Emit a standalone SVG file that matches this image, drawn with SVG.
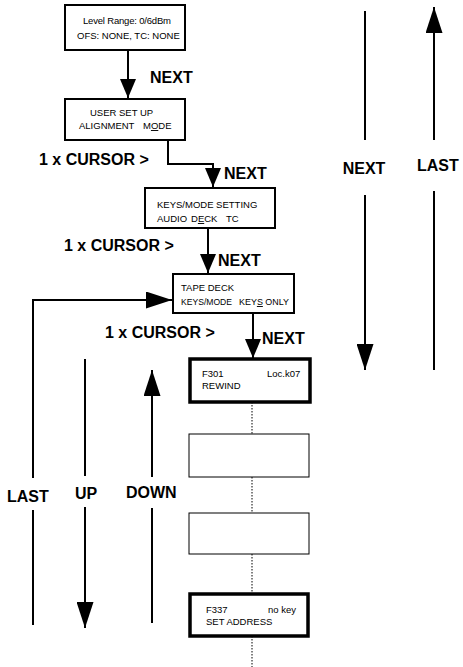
<svg xmlns="http://www.w3.org/2000/svg" width="463" height="667" viewBox="0 0 463 667">
<defs>
<style>
.bx{fill:#fff;stroke:#000;stroke-width:2}
.bk{fill:#fff;stroke:#000;stroke-width:3.5}
.bt{fill:#fff;stroke:#000;stroke-width:1}
.t{font-family:"Liberation Sans",Arial,sans-serif;font-size:9.5px;fill:#000}
.l{font-family:"Liberation Sans",Arial,sans-serif;font-size:16px;font-weight:bold;fill:#000}
.c{fill:none;stroke:#000;stroke-width:2}
.d{fill:none;stroke:#000;stroke-width:1;stroke-dasharray:1.5 1.5}
</style>
<marker id="ah" markerUnits="userSpaceOnUse" markerWidth="19" markerHeight="16" refX="19" refY="8" orient="auto">
<path d="M0,0 L19,8 L0,16 z" fill="#000"/>
</marker>
<marker id="al" markerUnits="userSpaceOnUse" markerWidth="26" markerHeight="17" refX="26" refY="8.5" orient="auto">
<path d="M0,0 L26,8.5 L0,17 z" fill="#000"/>
</marker>
</defs>
<rect width="463" height="667" fill="#fff"/>

<g id="connectors">
<path class="c" d="M128,50 V98" marker-end="url(#ah)"/>
<path class="c" d="M168,140 V164 H213 V187" marker-end="url(#ah)"/>
<path class="c" d="M208,228 V273" marker-end="url(#ah)"/>
<path class="c" d="M33,478 V300 H172" marker-end="url(#al)"/>
<path class="c" d="M33,510 V625"/>
<path class="c" d="M253,313 V358" marker-end="url(#ah)"/>
<path class="d" d="M252,402 V434 M252,477 V513 M252,554 V594 M252,636 V667"/>
<path class="c" d="M85,359 V476"/>
<path class="c" d="M85,507 V628" marker-end="url(#al)"/>
<path class="c" d="M152,477 V370" marker-end="url(#al)"/>
<path class="c" d="M152,508 V623"/>
<path class="c" d="M365,11 V140"/>
<path class="c" d="M365,195 V370" marker-end="url(#al)"/>
<path class="c" d="M434,140 V7" marker-end="url(#al)"/>
<path class="c" d="M434,191 V370"/>
</g>

<g id="node-level-range">
<rect class="bx" x="65" y="5" width="120" height="45"/>
<text class="t" x="83" y="24" textLength="88">Level Range: 0/6dBm</text>
<text class="t" x="77" y="39">OFS: NONE, TC: NONE</text>
</g>

<g id="node-user-setup">
<rect class="bx" x="65" y="99" width="120" height="41"/>
<text class="t" x="90" y="116">USER SET UP</text>
<text class="t" x="79" y="129">ALIGNMENT</text>
<text class="t" x="143" y="129">M<tspan text-decoration="underline">O</tspan>DE</text>
</g>

<g id="node-keys-mode">
<rect class="bx" x="145" y="188" width="130" height="40"/>
<text class="t" x="157" y="208">KEYS/MODE SETTING</text>
<text class="t" x="157" y="222">AUDIO</text>
<text class="t" x="191" y="222">D<tspan text-decoration="underline">E</tspan>CK</text>
<text class="t" x="226" y="222">TC</text>
</g>

<g id="node-tape-deck">
<rect class="bx" x="173" y="274" width="121" height="39"/>
<text class="t" x="181" y="291">TAPE DECK</text>
<text class="t" x="181" y="305" textLength="51" lengthAdjust="spacingAndGlyphs">KEYS/MODE</text>
<text class="t" x="239" y="305" textLength="50" lengthAdjust="spacingAndGlyphs">KEY<tspan text-decoration="underline">S</tspan> ONLY</text>
</g>

<g id="node-f301">
<rect class="bk" x="190" y="359" width="120" height="43"/>
<text class="t" x="202" y="377">F301</text>
<text class="t" x="267" y="377">Loc.k07</text>
<text class="t" x="202" y="389">REWIND</text>
</g>

<g id="node-empty-1">
<rect class="bt" x="189" y="434" width="120" height="43"/>
</g>

<g id="node-empty-2">
<rect class="bt" x="189" y="513" width="120" height="41"/>
</g>

<g id="node-f337">
<rect class="bk" x="190" y="594" width="118" height="42"/>
<text class="t" x="206" y="613">F337</text>
<text class="t" x="268" y="613">no key</text>
<text class="t" x="206" y="625">SET ADDRESS</text>
</g>

<g id="labels">
<text class="l" x="150" y="83">NEXT</text>
<text class="l" x="39" y="165">1 x CURSOR &gt;</text>
<text class="l" x="224" y="179">NEXT</text>
<text class="l" x="64" y="251">1 x CURSOR &gt;</text>
<text class="l" x="218" y="266">NEXT</text>
<text class="l" x="105" y="338">1 x CURSOR &gt;</text>
<text class="l" x="262" y="344">NEXT</text>
<text class="l" x="364" y="174" text-anchor="middle">NEXT</text>
<text class="l" x="417" y="171">LAST</text>
<text class="l" x="7" y="502">LAST</text>
<text class="l" x="75" y="499">UP</text>
<text class="l" x="126" y="498">DOWN</text>
</g>
</svg>
